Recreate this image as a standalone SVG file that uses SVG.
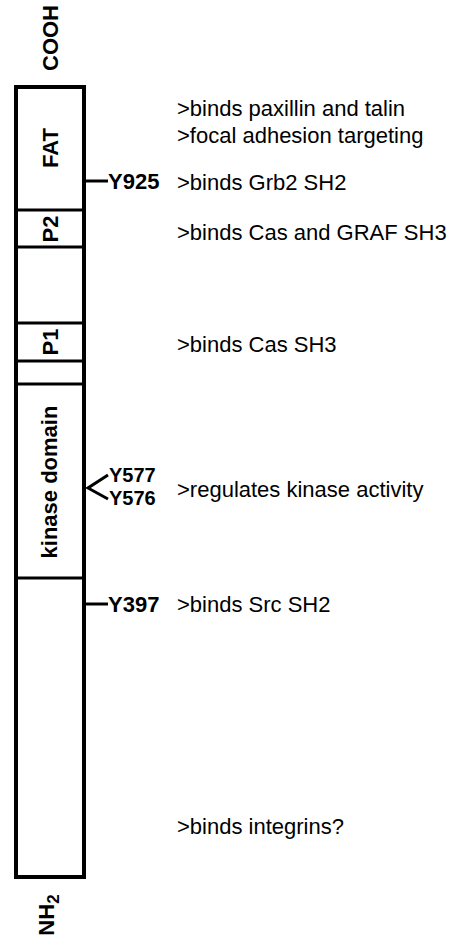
<svg xmlns="http://www.w3.org/2000/svg" width="452" height="937" viewBox="0 0 452 937">
<style>
.bar{fill:#fff;stroke:#000;stroke-width:4}
.div{stroke:#000;stroke-width:3}
.lbl{font-family:"Liberation Sans",Arial,sans-serif;font-weight:bold;font-size:22px;fill:#000}
.sm{font-size:20px}
.txt{font-family:"Liberation Sans",Arial,sans-serif;font-size:22px;fill:#000}
.tick{stroke:#000;stroke-width:3;fill:none}
</style>
<rect width="452" height="937" fill="#fff"/>
<g id="protein-bar">
<rect class="bar" x="16" y="87" width="68" height="790"/>
<line class="div" x1="16" y1="210" x2="84" y2="210"/>
<line class="div" x1="16" y1="247" x2="84" y2="247"/>
<line class="div" x1="16" y1="323" x2="84" y2="323"/>
<line class="div" x1="16" y1="361" x2="84" y2="361"/>
<line class="div" x1="16" y1="384" x2="84" y2="384"/>
<line class="div" x1="16" y1="578" x2="84" y2="578"/>
</g>
<g id="cooh"><text class="lbl" transform="translate(58,38) rotate(-90)" text-anchor="middle">COOH</text></g>
<g id="fat"><text class="lbl" transform="translate(58,148) rotate(-90)" text-anchor="middle">FAT</text></g>
<g id="p2"><text class="lbl" transform="translate(58,229) rotate(-90)" text-anchor="middle">P2</text></g>
<g id="p1"><text class="lbl" transform="translate(58,342) rotate(-90)" text-anchor="middle">P1</text></g>
<g id="kinase"><text class="lbl" transform="translate(57,482) rotate(-90)" text-anchor="middle">kinase domain</text></g>
<g id="nh2"><text class="lbl" transform="translate(54,915) rotate(-90)" text-anchor="middle">NH<tspan font-size="17" dy="5">2</tspan></text></g>
<g id="connectors">
<line class="tick" x1="86" y1="181" x2="108" y2="181"/>
<polyline class="tick" points="108,475 88,488 108,499"/>
<line class="tick" x1="86" y1="604" x2="108" y2="604"/>
</g>
<g id="y925"><text class="lbl" x="108" y="189">Y925</text></g>
<g id="y577"><text class="lbl sm" x="109" y="482">Y577</text></g>
<g id="y576"><text class="lbl sm" x="109" y="505">Y576</text></g>
<g id="y397"><text class="lbl" x="108" y="612">Y397</text></g>
<g id="notes">
<text class="txt" x="177" y="116">&gt;binds paxillin and talin</text>
<text class="txt" x="177" y="143">&gt;focal adhesion targeting</text>
<text class="txt" x="177" y="190">&gt;binds Grb2 SH2</text>
<text class="txt" x="177" y="240">&gt;binds Cas and GRAF SH3</text>
<text class="txt" x="177" y="352">&gt;binds Cas SH3</text>
<text class="txt" x="177" y="497">&gt;regulates kinase activity</text>
<text class="txt" x="177" y="612">&gt;binds Src SH2</text>
<text class="txt" x="177" y="834">&gt;binds integrins?</text>
</g>
</svg>
